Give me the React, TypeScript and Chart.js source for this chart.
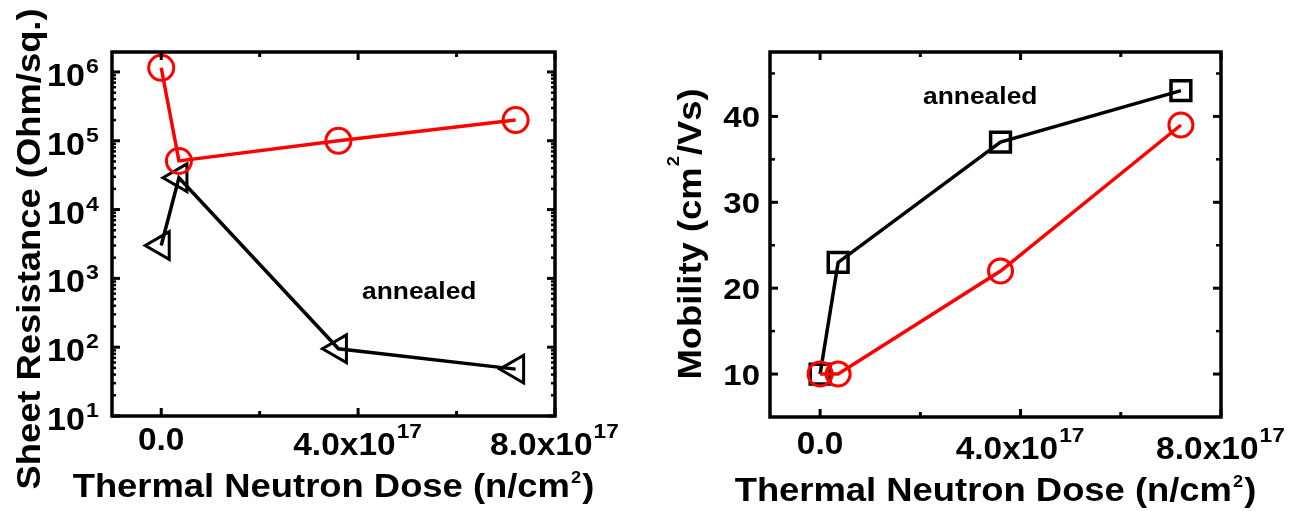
import React, { useEffect, useRef } from "react";
import { Chart, registerables } from "chart.js";

Chart.register(...registerables);

// ---------------- data ----------------
const doseX = [0, 3.6e16, 3.6e17, 7.2e17];
const sheetResRed = [1.15e6, 5.1e4, 1.0e5, 2.0e5];
const sheetResBlack = [3.0e3, 2.9e4, 95, 48];
const mobilityBlack = [10, 23, 37, 43];
const mobilityRed = [10, 10, 22, 39];

const xMajorTicks = [0, 4e17, 8e17];
const xMinorTicks = [2e17, 6e17];
const xTickLabels = ["0.0", "4.0x10^17", "8.0x10^17"];

const resMajorTicks = [1e1, 1e2, 1e3, 1e4, 1e5, 1e6];
const resTickLabels = ["10^1", "10^2", "10^3", "10^4", "10^5", "10^6"];
const resMinorMultipliers = [2, 3, 4, 5, 6, 7, 8, 9];

const mobMajorTicks = [10, 20, 30, 40];
const mobMinorTicks = [15, 25, 35, 45];
const mobTickLabels = ["10", "20", "30", "40"];

const xTitle = "Thermal Neutron Dose (n/cm^2)";
const resTitle = "Sheet Resistance (Ohm/sq.)";
const mobTitle = "Mobility (cm^2/Vs)";
const noteText = "annealed";

const RED = "#ff0000";
const BLACK = "#000000";
const FONT = '"Liberation Sans", Arial, sans-serif';

// ---------------- rich text helper ----------------
type Seg = { t: string; sup: boolean };
function segs(s: string): Seg[] {
  const out: Seg[] = [];
  const re = /\^([0-9]+)/g;
  let last = 0;
  let m: RegExpExecArray | null;
  while ((m = re.exec(s))) {
    if (m.index > last) out.push({ t: s.slice(last, m.index), sup: false });
    out.push({ t: m[1], sup: true });
    last = re.lastIndex;
  }
  if (last < s.length) out.push({ t: s.slice(last), sup: false });
  return out;
}

type RichOpts = {
  size: number;
  supSize: number;
  raise: number;
  stretch: number;
  align: "left" | "center" | "right";
  rotate?: boolean;
  gap?: number;
};

function drawRich(ctx: CanvasRenderingContext2D, s: string, x: number, y: number, o: RichOpts) {
  const parts = segs(s);
  const mf = `bold ${o.size}px ${FONT}`;
  const sf = `bold ${o.supSize}px ${FONT}`;
  const gap = o.gap ?? 1;
  let w = 0;
  const ws: number[] = [];
  for (const p of parts) {
    ctx.font = p.sup ? sf : mf;
    const pw = ctx.measureText(p.t).width;
    ws.push(pw);
    w += pw + (p.sup ? 2 * gap : 0);
  }
  ctx.save();
  ctx.translate(x, y);
  if (o.rotate) ctx.rotate(-Math.PI / 2);
  ctx.scale(o.stretch, 1);
  let cx = o.align === "center" ? -w / 2 : o.align === "right" ? -w : 0;
  ctx.textBaseline = "alphabetic";
  ctx.textAlign = "left";
  ctx.fillStyle = BLACK;
  parts.forEach((p, i) => {
    ctx.font = p.sup ? sf : mf;
    if (p.sup) cx += gap;
    ctx.fillText(p.t, cx, p.sup ? -o.raise : 0);
    cx += ws[i] + (p.sup ? gap : 0);
  });
  ctx.restore();
}

// ---------------- panel spec ----------------
type PanelSpec = {
  width: number;
  height: number;
  offsetX: number;
  padding: { left: number; right: number; top: number; bottom: number };
  yType: "linear" | "logarithmic";
  yMin: number;
  yMax: number;
  datasets: any[];
  yMajor: number[];
  yMinor: number[];
  yMinorLen: number;
  yLabels: string[];
  yLabelRight: number;
  yLabelSize: number;
  yLabelSupSize: number;
  yLabelRaise: number;
  xLabelCenter: number;
  yTitle: string;
  yTitleX: number;
  yTitleY: number;
  yTitleRaise: number;
  xTitleBaseline: number;
  note: { x: number; y: number };
};

function framePlugin(spec: PanelSpec) {
  return {
    id: "frameAndLabels",
    afterDraw(chart: any) {
      const ctx: CanvasRenderingContext2D = chart.ctx;
      const { left, right, top, bottom } = chart.chartArea;
      const xs = chart.scales.x;
      const ys = chart.scales.y;
      ctx.save();
      ctx.strokeStyle = BLACK;
      ctx.lineCap = "butt";

      const tick = (x1: number, y1: number, x2: number, y2: number, lw: number) => {
        ctx.lineWidth = lw;
        ctx.beginPath();
        ctx.moveTo(x1, y1);
        ctx.lineTo(x2, y2);
        ctx.stroke();
      };

      // x ticks (inward, bottom & top)
      xMajorTicks.forEach((v) => {
        const px = xs.getPixelForValue(v);
        tick(px, bottom, px, bottom - 8, 3);
        tick(px, top, px, top + 8, 3);
      });
      xMinorTicks.forEach((v) => {
        const px = xs.getPixelForValue(v);
        tick(px, bottom, px, bottom - 5, 3);
        tick(px, top, px, top + 5, 3);
      });
      // y ticks (inward, left & right)
      spec.yMajor.forEach((v) => {
        const py = ys.getPixelForValue(v);
        tick(left, py, left + 8, py, 3);
        tick(right, py, right - 8, py, 3);
      });
      spec.yMinor.forEach((v) => {
        const py = ys.getPixelForValue(v);
        if (py < top || py > bottom) return;
        tick(left, py, left + spec.yMinorLen, py, 2.5);
        tick(right, py, right - spec.yMinorLen, py, 2.5);
      });

      // frame
      ctx.lineWidth = 3.5;
      ctx.strokeRect(left, top, right - left, bottom - top);
      ctx.restore();

      // x tick labels: vertically centred box (including superscript)
      const xSize = 31;
      const xSup = 21;
      const xRaise = 17;
      xMajorTicks.forEach((v, i) => {
        const px = xs.getPixelForValue(v);
        const lab = xTickLabels[i];
        const hasSup = lab.includes("^");
        const h = hasSup ? xRaise + 0.716 * xSup : 0.716 * xSize;
        drawRich(ctx, lab, px, spec.xLabelCenter + h / 2, {
          size: xSize,
          supSize: xSup,
          raise: xRaise,
          stretch: 1.08,
          align: "center",
        });
      });

      // y tick labels
      spec.yMajor.forEach((v, i) => {
        const py = ys.getPixelForValue(v);
        const lab = spec.yLabels[i];
        const hasSup = lab.includes("^");
        const h = hasSup
          ? spec.yLabelRaise + 0.716 * spec.yLabelSupSize
          : 0.716 * spec.yLabelSize;
        drawRich(ctx, lab, spec.yLabelRight, py + h / 2, {
          size: spec.yLabelSize,
          supSize: spec.yLabelSupSize,
          raise: spec.yLabelRaise,
          stretch: 1.1,
          align: "right",
        });
      });

      // axis titles
      drawRich(ctx, xTitle, (left + right) / 2, spec.xTitleBaseline, {
        size: 34,
        supSize: 17,
        raise: 14,
        stretch: 1.07,
        align: "center",
      });
      drawRich(ctx, spec.yTitle, spec.yTitleX, spec.yTitleY, {
        size: 34,
        supSize: 17,
        raise: spec.yTitleRaise,
        stretch: 1.07,
        align: "center",
        rotate: true,
      });

      // annotation
      drawRich(ctx, noteText, spec.note.x, spec.note.y, {
        size: 24,
        supSize: 14,
        raise: 10,
        stretch: 1.1,
        align: "left",
      });
    },
  };
}

function Panel({ spec }: { spec: PanelSpec }) {
  const ref = useRef<HTMLCanvasElement | null>(null);
  useEffect(() => {
    if (!ref.current) return;
    const chart = new Chart(ref.current, {
      type: "line",
      data: { datasets: spec.datasets },
      options: {
        animation: false,
        responsive: false,
        devicePixelRatio: 1,
        events: [],
        layout: { padding: spec.padding, autoPadding: false } as any,
        plugins: { legend: { display: false }, tooltip: { enabled: false } },
        scales: {
          x: {
            type: "linear",
            min: -1e17,
            max: 8e17,
            grid: { display: false, drawTicks: false },
            border: { display: false },
            ticks: { display: false },
            afterFit: (s: any) => {
              s.height = 0;
            },
          },
          y: {
            type: spec.yType,
            min: spec.yMin,
            max: spec.yMax,
            grid: { display: false, drawTicks: false },
            border: { display: false },
            ticks: { display: false },
            afterFit: (s: any) => {
              s.width = 0;
            },
          },
        } as any,
      },
      plugins: [framePlugin(spec)],
    });
    return () => chart.destroy();
  }, [spec]);
  return (
    <canvas
      ref={ref}
      width={spec.width}
      height={spec.height}
      style={{
        position: "absolute",
        left: spec.offsetX,
        top: 0,
        width: spec.width,
        height: spec.height,
      }}
    />
  );
}

const series = (ys: number[]) => doseX.map((x, i) => ({ x, y: ys[i] }));

const common = {
  fill: false,
  tension: 0,
  borderWidth: 3.5,
  pointBorderWidth: 3,
  pointBackgroundColor: "rgba(0,0,0,0)",
  clip: false,
};

const resMinor: number[] = [];
resMajorTicks.forEach((d) => resMinorMultipliers.forEach((k) => resMinor.push(d * k)));

const leftSpec: PanelSpec = {
  width: 650,
  height: 511,
  offsetX: 0,
  padding: { left: 112, right: 95, top: 52, bottom: 95 },
  yType: "logarithmic",
  yMin: 10,
  yMax: 1.95e6,
  datasets: [
    {
      ...common,
      data: series(sheetResRed),
      borderColor: RED,
      pointBorderColor: RED,
      pointStyle: "circle",
      pointRadius: 12.5,
    },
    {
      ...common,
      data: series(sheetResBlack),
      borderColor: BLACK,
      pointBorderColor: BLACK,
      pointStyle: "triangle",
      pointRotation: -90,
      pointRadius: 16,
    },
  ],
  yMajor: resMajorTicks,
  yMinor: resMinor,
  yMinorLen: 4,
  yLabels: resTickLabels,
  yLabelRight: 100,
  yLabelSize: 31,
  yLabelSupSize: 21,
  yLabelRaise: 13,
  xLabelCenter: 439,
  yTitle: resTitle,
  yTitleX: 40,
  yTitleY: 249,
  yTitleRaise: 23,
  xTitleBaseline: 497,
  note: { x: 362, y: 299 },
};

const rightSpec: PanelSpec = {
  width: 649,
  height: 511,
  offsetX: 650,
  padding: { left: 120, right: 78, top: 52, bottom: 94 },
  yType: "linear",
  yMin: 5,
  yMax: 47.5,
  datasets: [
    {
      ...common,
      data: series(mobilityRed),
      borderColor: RED,
      pointBorderColor: RED,
      pointStyle: "circle",
      pointRadius: 12,
    },
    {
      ...common,
      data: series(mobilityBlack),
      borderColor: BLACK,
      pointBorderColor: BLACK,
      pointStyle: "rect",
      pointRadius: 14,
      pointBorderWidth: 3.5,
    },
  ],
  yMajor: mobMajorTicks,
  yMinor: mobMinorTicks,
  yMinorLen: 5,
  yLabels: mobTickLabels,
  yLabelRight: 110,
  yLabelSize: 30,
  yLabelSupSize: 20,
  yLabelRaise: 13,
  xLabelCenter: 442.5,
  yTitle: mobTitle,
  yTitleX: 51,
  yTitleY: 234,
  yTitleRaise: 22,
  xTitleBaseline: 501,
  note: { x: 273, y: 104 },
};

export default function App() {
  return (
    <div
      style={{
        position: "absolute",
        left: 0,
        top: 0,
        width: 1299,
        height: 511,
        background: "#ffffff",
        overflow: "hidden",
      }}
    >
      <Panel spec={leftSpec} />
      <Panel spec={rightSpec} />
    </div>
  );
}
